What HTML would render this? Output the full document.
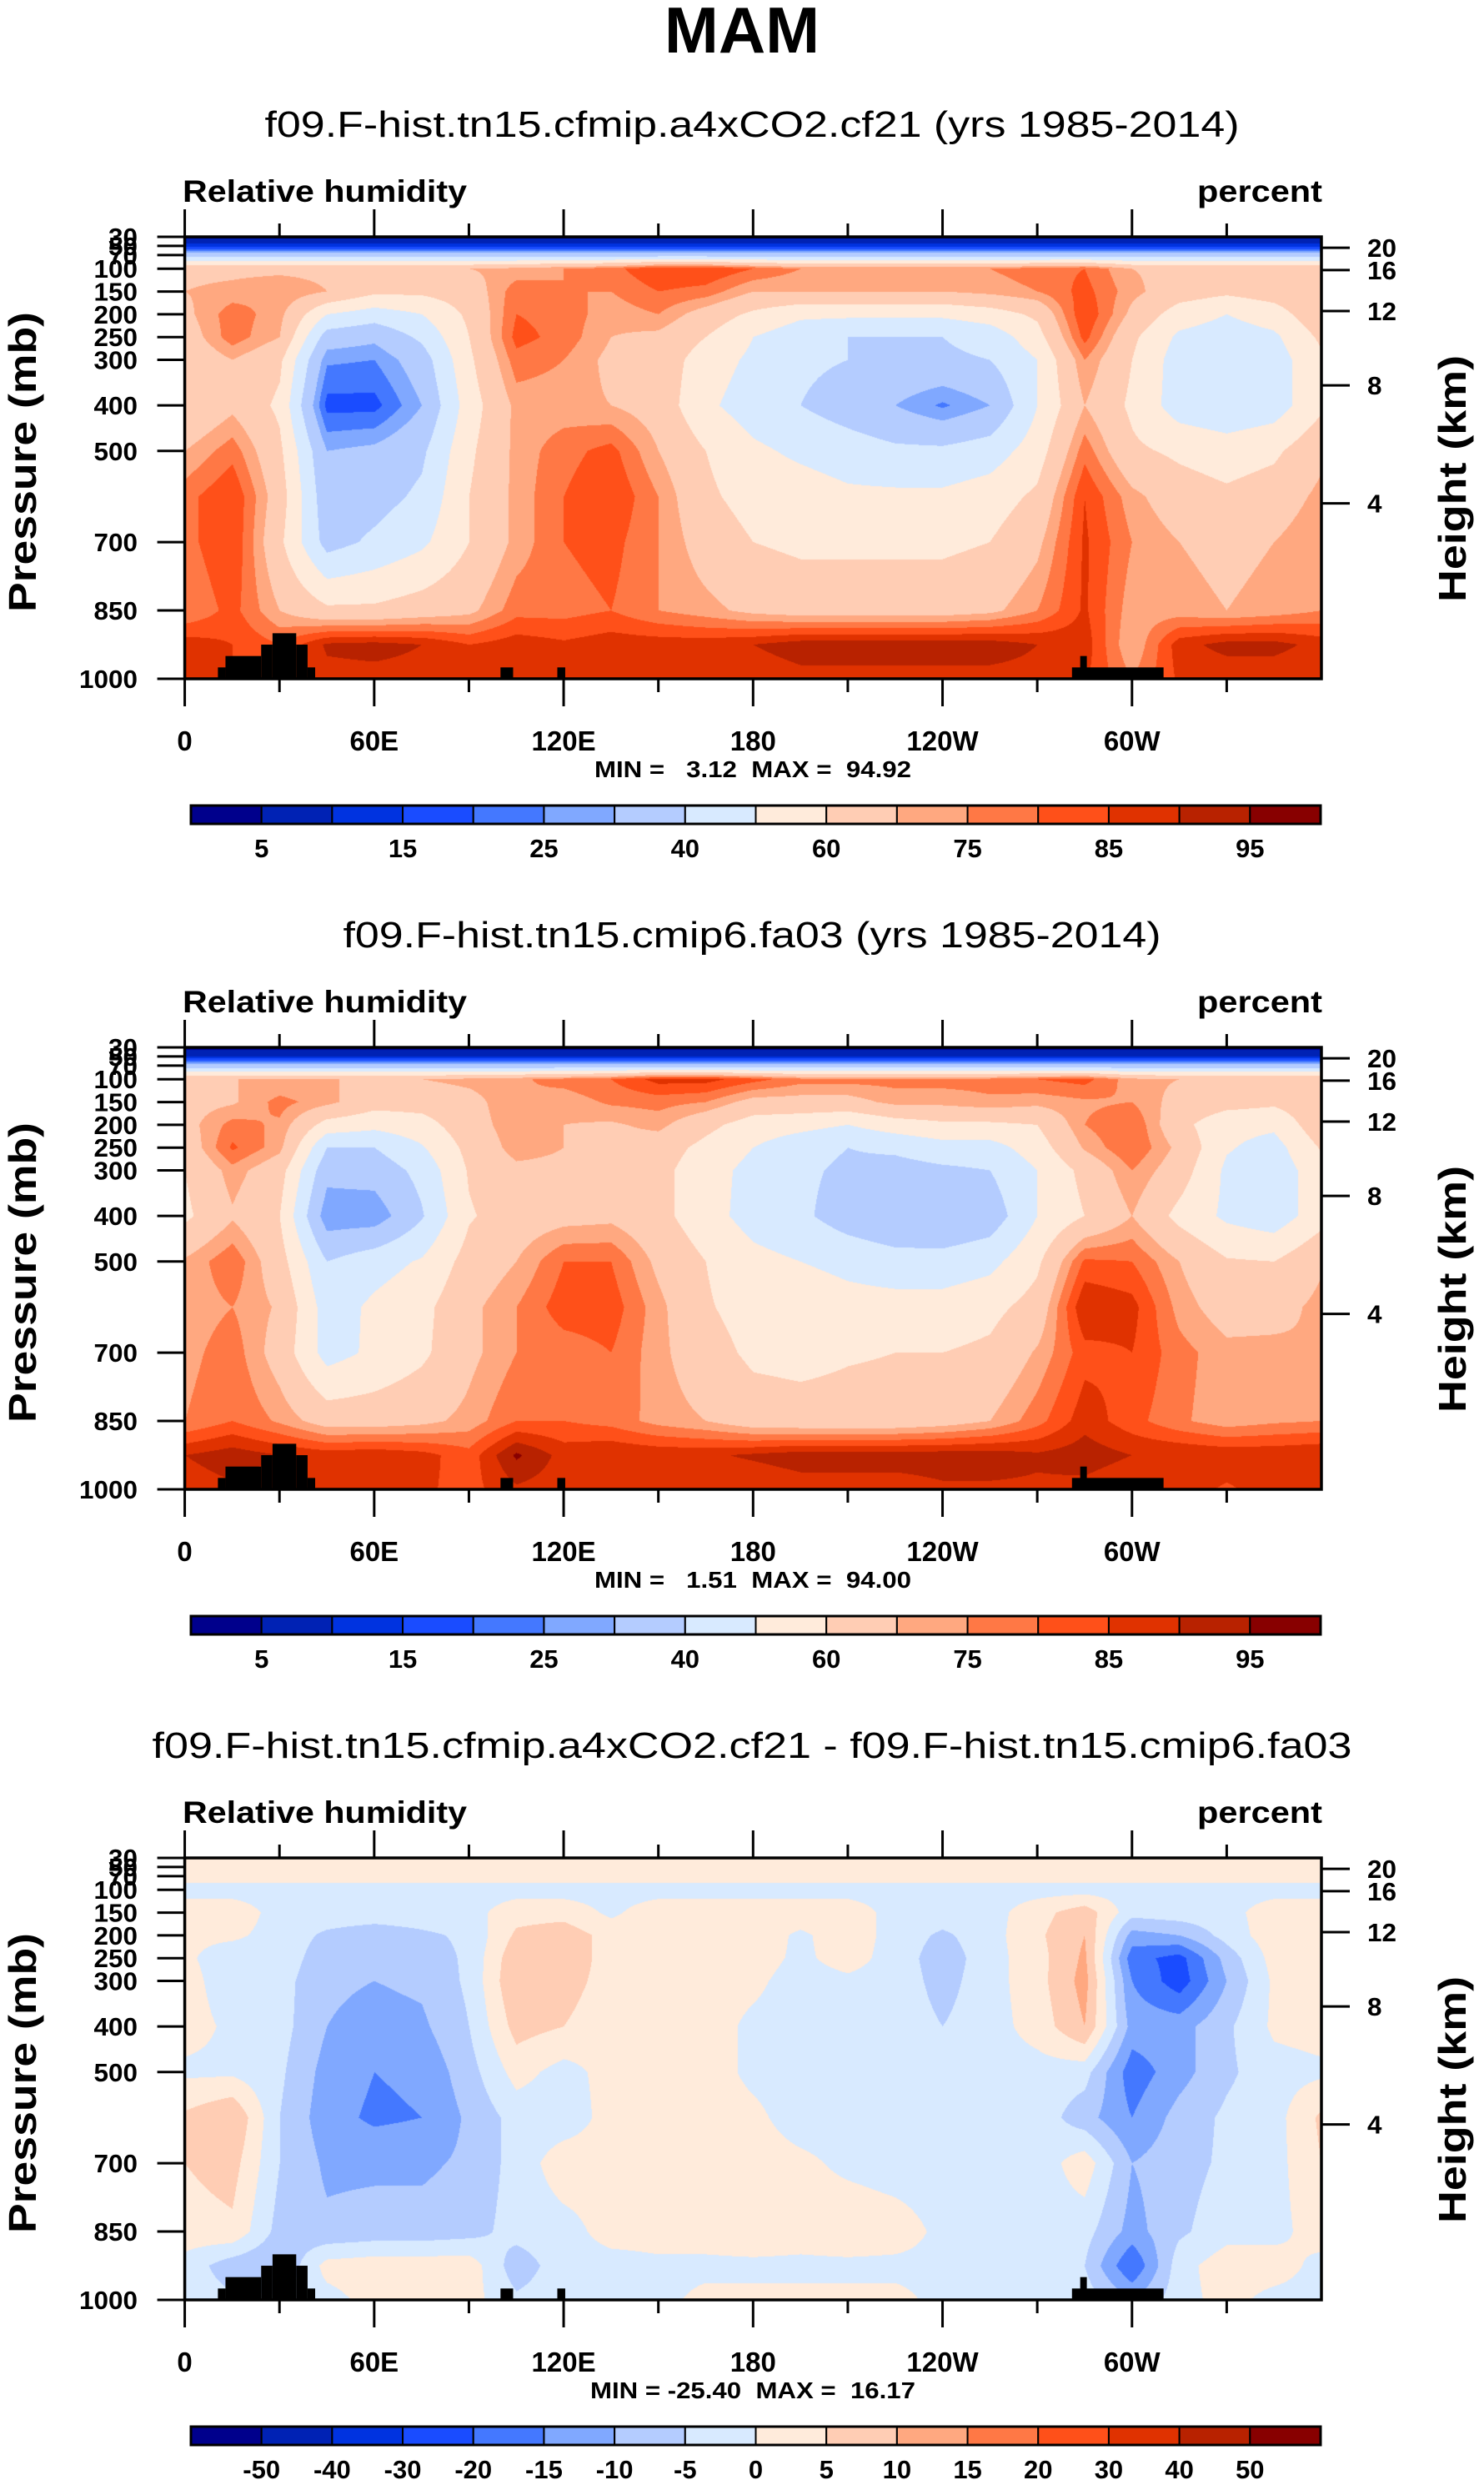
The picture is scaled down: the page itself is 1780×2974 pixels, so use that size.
<!DOCTYPE html>
<html><head><meta charset="utf-8"><style>
html,body{margin:0;padding:0;background:#fff;}
#wrap{position:relative;width:1780px;height:2974px;overflow:hidden;font-family:"Liberation Sans",Arial,sans-serif;}
canvas{position:absolute;}
svg{position:absolute;left:0;top:0;}
</style></head><body>
<div id="wrap">
<canvas id="c0"></canvas>
<canvas id="c1"></canvas>
<canvas id="c2"></canvas>
<svg id="s" width="1780" height="2974" xmlns="http://www.w3.org/2000/svg"></svg>
</div>
<script>
// ---------- data ----------
const lons = [0,15,30,45,60,75,90,105,120,135,150,165,180,195,210,225,240,255,270,285,300,315,330,345,360];
const levels = [30,50,70,100,150,200,250,300,400,500,600,700,850,925,1000];
const pressureTicks = [30,50,70,100,150,200,250,300,400,500,700,850,1000];
const heightTicks = [20,16,12,8,4];
const heightTickPressures = [54,103,193,356,615];
const lonTickValues = [0,60,120,180,240,300];
const lonTickLabels = ["0","60E","120E","180","120W","60W"];
const rhBounds = [5,10,15,20,25,30,40,50,60,70,75,80,85,90,95];
const rhLabels = ["5","","15","","25","","40","","60","","75","","85","","95"];
const diffBounds = [-50,-40,-30,-20,-15,-10,-5,0,5,10,15,20,30,40,50];
const diffLabels = ["-50","-40","-30","-20","-15","-10","-5","0","5","10","15","20","30","40","50"];
const colors = ["#00008c","#0022b4","#0033e0","#1a4cff","#4478ff","#80a8ff","#b4ccff","#d8eaff","#ffebdb","#ffcdb4","#ffa880","#ff7845","#ff5019","#e03200","#b82200","#880000"];
const landBlocks = [[10.5,12.9,975],[12.9,24.2,950],[24.2,27.8,925],[27.8,35.3,900],[35.3,38.9,925],[38.9,41.3,975],[100,104,975],[118,120.5,975],[281,310,975],[283.6,285.7,950]];
const minmax = ["MIN =   3.12  MAX =  94.92","MIN =   1.51  MAX =  94.00","MIN = -25.40  MAX =  16.17"];
const subtitles = ["f09.F-hist.tn15.cfmip.a4xCO2.cf21 (yrs 1985-2014)","f09.F-hist.tn15.cmip6.fa03 (yrs 1985-2014)","f09.F-hist.tn15.cfmip.a4xCO2.cf21 - f09.F-hist.tn15.cmip6.fa03"];

const rh1 = [
[3,3,3,3,3,3,3,3,3,3,3,3,3,3,3,3,3,3,3,3,3,3,3,3,3],
[12,12,12,12,12,12,12,12,12,12,12,12,12,12,12,12,12,12,12,12,12,12,12,12,12],
[35,35,35,35,35,35,35,35,35,35,35,35,35,35,35,35,35,35,35,35,35,35,35,35,35],
[68,68,68,68,68,68,70,72,75,78,85,85,80,75,75,75,75,75,78,80,70,68,68,68,68],
[70,72,75,70,62,62,65,78,75,75,80,78,70,70,70,70,70,72,75,82,72,65,62,65,70],
[68,78,72,50,45,50,62,80,78,72,75,66,58,52,52,52,52,55,62,85,68,55,50,55,68],
[65,78,70,35,32,42,60,82,78,70,68,60,50,44,40,40,40,44,56,82,62,48,45,48,62],
[62,70,62,26,25,35,58,78,75,68,66,55,48,42,40,38,38,40,50,75,60,45,40,45,58],
[60,68,58,18,18,30,55,72,72,70,66,52,45,40,35,30,24,30,50,70,58,45,42,45,58],
[70,78,62,30,32,38,58,72,78,82,70,60,52,48,45,42,42,45,55,78,62,58,55,58,68],
[78,85,65,33,36,42,60,72,80,85,75,62,56,55,52,52,52,55,62,85,72,65,62,65,72],
[78,85,62,36,42,48,60,72,80,82,75,66,60,58,58,58,58,60,68,86,75,70,68,70,75],
[75,82,70,62,62,65,68,78,78,80,75,72,68,66,66,66,66,68,75,86,72,72,70,72,75],
[88,85,80,91,92,90,85,88,86,88,88,88,90,93,93,93,93,93,90,88,70,88,92,92,88],
[85,85,82,88,88,88,85,85,85,85,85,86,86,88,88,88,88,88,88,86,75,86,86,86,85]];
const rh2 = [
[3,3,3,3,3,3,3,3,3,3,3,3,3,3,3,3,3,3,3,3,3,3,3,3,3],
[10,10,10,10,10,10,10,10,10,10,10,10,10,10,10,10,10,10,10,10,10,10,10,10,10],
[33,33,33,33,33,33,33,33,33,33,33,33,33,33,33,33,33,33,33,33,33,33,33,33,33],
[70,70,70,70,70,70,72,74,77,80,87,87,82,77,77,77,77,77,80,82,72,70,70,70,70],
[67,69,77,72,64,64,67,75,72,76,77,75,67,67,67,72,72,74,72,74,75,67,64,62,67],
[67,77,74,56,53,56,66,74,70,69,72,63,55,53,50,55,58,58,60,75,80,63,53,52,67],
[64,81,72,40,40,49,63,73,70,67,65,57,50,44,40,42,46,46,55,71,80,68,51,46,61],
[60,73,64,33,34,43,61,68,68,65,63,54,47,42,38,36,38,40,50,63,75,65,48,44,56],
[58,69,60,25,25,39,59,65,67,68,63,54,46,42,35,31,30,34,50,60,70,57,48,44,56],
[71,79,64,40,46,51,64,70,80,80,68,60,53,50,47,44,44,47,58,81,80,70,61,60,69],
[72,75,69,45,52,57,68,75,83,83,72,61,56,57,54,54,54,57,64,90,87,73,66,67,72],
[73,78,66,46,52,58,68,75,77,80,72,64,58,57,59,60,60,62,71,83,85,77,72,72,70],
[75,80,74,66,66,68,72,80,80,78,73,70,65,64,64,64,66,70,78,88,82,76,72,74,75],
[90,93,90,88,89,87,82,96,88,90,89,89,91,93,93,93,93,93,91,93,90,90,89,89,90],
[87,89,86,90,86,86,83,89,87,87,86,85,85,87,87,87,89,89,89,88,85,88,84,88,87]];
const rhDiff = [
[2,2,2,2,2,2,2,2,2,2,2,2,2,2,2,2,2,2,2,2,2,2,2,2,2],
[2,2,2,2,2,2,2,2,2,2,2,2,2,2,2,2,2,2,2,2,2,2,2,2,2],
[2,2,2,2,2,2,2,2,2,2,2,2,2,2,2,2,2,2,2,2,2,2,2,2,2],
[-2,-2,-2,-2,-2,-2,-2,-2,-2,-2,-2,-2,-2,-2,-2,-2,-2,-2,-2,-2,-2,-2,-2,-2,-2],
[3,3,-2,-2,-2,-2,-2,3,3,-1,3,3,3,3,3,-2,-2,-2,3,8,-3,-2,-2,3,3],
[1,1,-2,-6,-8,-6,-4,6,8,3,3,3,3,-1,3,-2,-6,-2,4,10,-12,-10,-3,3,1],
[1,-3,-2,-8,-9,-8,-4,9,8,3,3,3,2,-1,2,-2,-8,-2,3,11,-18,-22,-8,2,1],
[2,-3,-3,-9,-10,-9,-4,10,7,3,3,2,1,-2,-1,-2,-7,-2,3,12,-15,-23,-10,1,2],
[2,-1,-3,-10,-12,-11,-5,7,5,2,3,2,-1,-2,-2,-2,-5,-2,2,10,-12,-12,-6,1,2],
[-1,-1,-4,-12,-15,-14,-7,2,-2,2,3,2,-1,-2,-2,-2,-2,-2,-2,-3,-18,-12,-6,-2,-1],
[6,10,-5,-13,-16,-15,-9,-3,-3,2,3,2,1,-2,-2,-2,-2,-2,-2,-8,-15,-8,-4,-2,6],
[5,7,-5,-11,-11,-11,-9,-3,3,2,3,2,2,1,-1,-2,-2,-2,-3,3,-10,-7,-4,-2,5],
[3,4,-7,-9,-8,-8,-7,-3,-2,2,2,2,3,2,3,2,-1,-2,-2,-3,-12,-6,-2,-2,3],
[-2,-8,-10,2,3,3,3,-8,-2,-2,-1,-1,-1,-1,-1,-1,-1,-1,-1,-5,-20,-2,3,3,-2],
[-2,-4,-4,-2,2,2,2,-4,-2,-2,-1,1,1,1,1,1,-1,-1,-1,-2,-10,-2,2,-2,-2]];

// ---------- layout ----------
const X0=221.6, X1=1585, BH=530;
const panelTops=[284,1256,2228];
const fields=[rh1,rh2,rhDiff];
const bounds=[rhBounds,rhBounds,diffBounds];
const blabels=[rhLabels,rhLabels,diffLabels];
const xs=lon=>X0+(lon/360)*(X1-X0);
const ys=(p,top)=>top+(p-30)/970*BH;
const NS="http://www.w3.org/2000/svg";
const svg=document.getElementById('s');
function mk(tag,attrs,parent){const e=document.createElementNS(NS,tag);for(const k in attrs)e.setAttribute(k,attrs[k]);(parent||svg).appendChild(e);return e;}
function txt(s,attrs,parent){const e=mk('text',attrs,parent);e.textContent=s;return e;}

function sample(grid,lon,p){
  let fi=lon/15; let i=Math.min(Math.floor(fi),lons.length-2); let tx=fi-i;
  let j=0; while(j<levels.length-2 && p>levels[j+1]) j++;
  let ty=(p-levels[j])/(levels[j+1]-levels[j]); ty=Math.max(0,Math.min(1,ty));
  const a=grid[j][i],b=grid[j][i+1],c=grid[j+1][i],d=grid[j+1][i+1];
  return (a*(1-tx)+b*tx)*(1-ty)+(c*(1-tx)+d*tx)*ty;
}
function hex(h){return [parseInt(h.substr(1,2),16),parseInt(h.substr(3,2),16),parseInt(h.substr(5,2),16)];}
const rgb=colors.map(hex);

txt("MAM",{x:890,y:63,'font-size':78,'font-weight':'bold','text-anchor':'middle',});

panelTops.forEach((top,k)=>{
  const cv=document.getElementById('c'+k);
  const W=Math.round(X1-X0), H=BH;
  cv.width=W; cv.height=H; cv.style.left=X0+'px'; cv.style.top=top+'px';
  const ctx=cv.getContext('2d'); const im=ctx.createImageData(W,H);
  const bd=bounds[k], g=fields[k];
  for(let y=0;y<H;y++){const p=30+(y+0.5)/H*970;
    for(let x=0;x<W;x++){const lon=(x+0.5)/W*360;const v=sample(g,lon,p);
      let ci=0; while(ci<bd.length && v>=bd[ci]) ci++;
      const c=rgb[ci]; const o=(y*W+x)*4; im.data[o]=c[0];im.data[o+1]=c[1];im.data[o+2]=c[2];im.data[o+3]=255;}}
  ctx.putImageData(im,0,0);

  const grp=mk('g',{});
  landBlocks.forEach(b=>{
    const r=mk('rect',{x:xs(b[0]),y:ys(b[2],top),width:xs(b[1])-xs(b[0]),height:ys(1000,top)-ys(b[2],top),fill:'#000'},grp);
    
    
  });
  mk('rect',{x:X0,y:top,width:X1-X0,height:BH,fill:'none',stroke:'#000','stroke-width':3.5,},grp);
  for(let lon=0;lon<360;lon+=30){
    const major=lon%60===0; const x=xs(lon); const L=major?33:16;
    mk('line',{x1:x,x2:x,y1:top,y2:top-L,stroke:'#000','stroke-width':3},grp);
    mk('line',{x1:x,x2:x,y1:top+BH,y2:top+BH+L,stroke:'#000','stroke-width':3},grp);
  }
  lonTickValues.forEach((lon,i)=>{
    const t=txt(lonTickLabels[i],{x:xs(lon),y:top+BH+86,'font-size':33,'font-weight':'bold','text-anchor':'middle'},grp);
    
    
  });
  pressureTicks.forEach(p=>{
    const y=ys(p,top);
    mk('line',{x1:X0,x2:X0-33,y1:y,y2:y,stroke:'#000','stroke-width':3},grp);
    const t=txt(String(p),{x:165,y:y+11,'font-size':31,'font-weight':'bold','text-anchor':'end','textLength':String(p).length*17.5,'lengthAdjust':'spacingAndGlyphs'},grp);
    
    
  });
  heightTicks.forEach((h,i)=>{
    const y=ys(heightTickPressures[i],top);
    mk('line',{x1:X1,x2:X1+34,y1:y,y2:y,stroke:'#000','stroke-width':3},grp);
    const t=txt(String(h),{x:1640,y:y+11,'font-size':31,'font-weight':'bold','textLength':String(h).length*17.5,'lengthAdjust':'spacingAndGlyphs'},grp);
    
    
  });
  txt("Pressure (mb)",{x:0,y:0,'font-size':46,'font-weight':'bold','text-anchor':'middle',transform:`translate(43,${top+BH/2+5}) rotate(-90)`,'textLength':360,'lengthAdjust':'spacingAndGlyphs',},grp);
  txt("Height (km)",{x:0,y:0,'font-size':46,'font-weight':'bold','text-anchor':'middle',transform:`translate(1758,${top+BH/2+25}) rotate(-90)`,'textLength':296,'lengthAdjust':'spacingAndGlyphs',},grp);
  txt("Relative humidity",{x:219,y:top-42,'font-size':37,'font-weight':'bold','textLength':341,'lengthAdjust':'spacingAndGlyphs',},grp);
  txt("percent",{x:1586,y:top-42,'font-size':37,'font-weight':'bold','text-anchor':'end','textLength':150,'lengthAdjust':'spacingAndGlyphs',},grp);
  const sw=[1169,981,1439][k];
  txt(subtitles[k],{x:902,y:top-120,'font-size':44,'text-anchor':'middle','textLength':sw,'lengthAdjust':'spacingAndGlyphs',},grp);
  txt(minmax[k],{x:903,y:top+BH+118,'font-size':28,'font-weight':'bold','text-anchor':'middle','style':'white-space:pre','textLength':k==2?390:380,'lengthAdjust':'spacingAndGlyphs',},grp);
  const cb=mk('g',{},grp);
  const cx0=229,cx1=1584,cy=top+BH+152,ch=22,cw=(cx1-cx0)/colors.length;
  colors.forEach((c,i)=>{
    const r=mk('rect',{x:cx0+i*cw,y:cy,width:cw,height:ch,fill:c,stroke:'#000','stroke-width':2},cb);
    
    
  });
  mk('rect',{x:cx0,y:cy,width:cx1-cx0,height:ch,fill:'none',stroke:'#000','stroke-width':3},cb);
  blabels[k].forEach((s,i)=>{
    if(!s) return;
    const t=txt(s,{x:cx0+(i+1)*cw,y:cy+62,'font-size':31,'font-weight':'bold','text-anchor':'middle'},cb);
    
    
  });
});
</script>
</body></html>
